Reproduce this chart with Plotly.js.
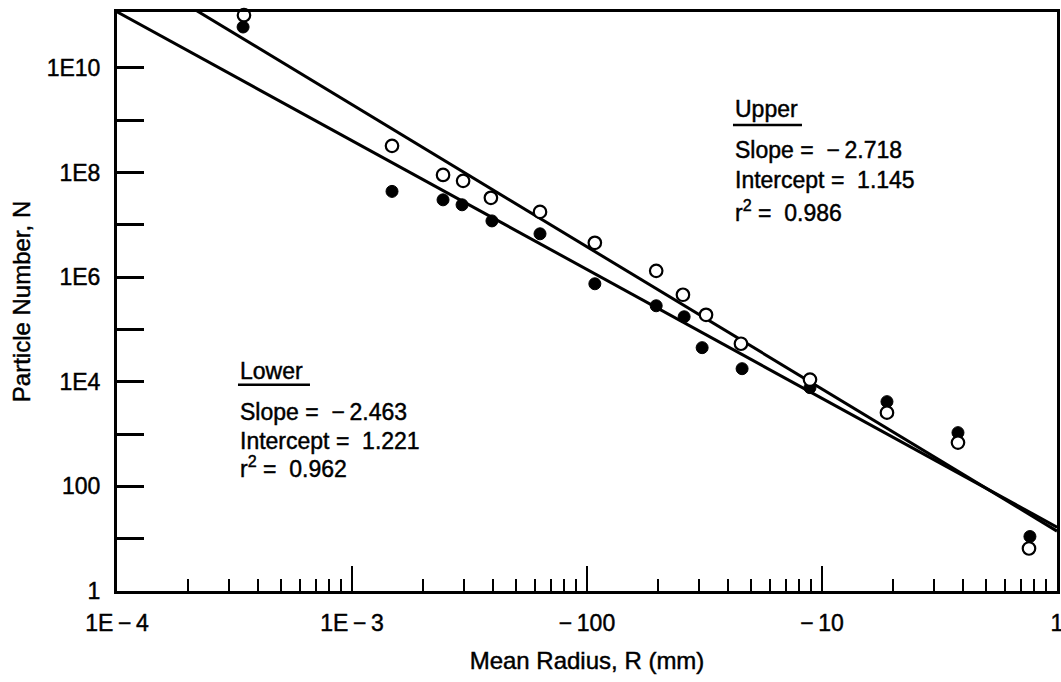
<!DOCTYPE html>
<html><head><meta charset="utf-8">
<script src="https://cdn.plot.ly/plotly-3.0.1.min.js"></script>
<style>
html,body{margin:0;padding:0;background:#fff}
#chart{width:1061px;height:682px}
#chart text{stroke:#000;stroke-width:0.45px}
</style>
</head><body><div id="chart"></div>
<script>
// Open circles (upper set)
const radiusOpen = [3.47e-4, 1.48e-3, 2.44e-3, 2.97e-3, 3.90e-3, 6.31e-3, 1.08e-2, 1.97e-2, 2.56e-2, 3.21e-2, 4.52e-2, 8.89e-2, 0.189, 0.379, 0.760];
const numberOpen = [1.02e11, 3.24e8, 9.0e7, 6.95e7, 3.29e7, 1.77e7, 4.54e6, 1.32e6, 4.61e5, 1.91e5, 5.34e4, 1.10e4, 2570, 687, 6.5];
// Filled circles (lower set)
const radiusFilled = [3.44e-4, 1.48e-3, 2.44e-3, 2.94e-3, 3.94e-3, 6.31e-3, 1.08e-2, 1.97e-2, 2.59e-2, 3.09e-2, 4.57e-2, 8.89e-2, 0.189, 0.379, 0.767];
const numberFilled = [6.07e10, 4.37e7, 3.01e7, 2.42e7, 1.19e7, 6.75e6, 7.48e5, 2.84e5, 1.75e5, 4.49e4, 1.78e4, 7720, 4170, 1066, 11.0];
// Regression fits (log10 N = intercept + slope * log10 R)
const fitNames = ['Upper', 'Lower'];
const fitSlopes = [-2.718, -2.463];
const fitIntercepts = [1.145, 1.221];
const fitR2 = [0.986, 0.962];
const fitRange = [1e-4, 1];
// Tick labels
const xTickVals = [1e-4, 1e-3, 1e-2, 1e-1, 1];
const xTickText = ['1E\u2009\u2212\u20094', '1E\u2009\u2212\u20093', '\u2212\u2009100', '\u2212\u200910', '1'];
const yTickVals = [1, 100, 1e4, 1e6, 1e8, 1e10];
const yTickText = ['1', '100', '1E4', '1E6', '1E8', '1E10'];
const yMinorVals = [10, 1e3, 1e5, 1e7, 1e9];
const xTitle = 'Mean Radius, R (mm)';
const yTitle = 'Particle Number, N';

const FONT = 'Liberation Sans, Arial, Helvetica, sans-serif';
const NB = '\u00a0';

const fmtSlope = s => (s < 0 ? '\u2212\u2009' : '') + Math.abs(s).toFixed(3);

const traces = [];
fitSlopes.forEach((s, i) => {
  traces.push({
    x: fitRange,
    y: fitRange.map(r => Math.pow(10, fitIntercepts[i] + s * Math.log10(r))),
    mode: 'lines', type: 'scatter', name: fitNames[i] + ' fit',
    line: {color: '#000', width: 3}, hoverinfo: 'skip'
  });
});
traces.push({
  x: radiusFilled, y: numberFilled, mode: 'markers', type: 'scatter', name: 'Lower',
  marker: {symbol: 'circle', size: 12, color: '#000', line: {color: '#000', width: 1}},
  cliponaxis: false
});
traces.push({
  x: radiusOpen, y: numberOpen, mode: 'markers', type: 'scatter', name: 'Upper',
  marker: {symbol: 'circle', size: 12.5, color: '#fff', line: {color: '#000', width: 2.2}},
  cliponaxis: false
});

// minor tick positions (2..9 in each decade)
const minorX = [];
for (let d = -4; d < 0; d++) for (let k = 2; k <= 9; k++) minorX.push(k * Math.pow(10, d));

const blocks = [
  {i: 0, x: 0.6553, y: [0.8326, 0.7619, 0.7101, 0.6566], ul: [0.6553, 0.7287, 0.805]},
  {i: 1, x: 0.1287, y: [0.3805, 0.3098, 0.2597, 0.2148], ul: [0.1287, 0.2053, 0.3563]}
];
const annotations = [];
const shapes = [];
blocks.forEach(b => {
  const i = b.i;
  const lines = [
    fitNames[i],
    'Slope' + NB + '=' + NB + NB + fmtSlope(fitSlopes[i]),
    'Intercept' + NB + '=' + NB + NB + fitIntercepts[i].toFixed(3),
    'r<sup>2</sup>' + NB + '=' + NB + NB + fitR2[i].toFixed(3)
  ];
  lines.forEach((t, j) => annotations.push({
    xref: 'paper', yref: 'paper', x: b.x, y: b.y[j], xanchor: 'left', yanchor: 'middle',
    text: t, showarrow: false, font: {family: FONT, size: 23, color: '#000'}
  }));
  shapes.push({type: 'line', xref: 'paper', yref: 'paper', x0: b.ul[0], x1: b.ul[1], y0: b.ul[2], y1: b.ul[2],
    line: {color: '#000', width: 2.5}});
});

const layout = {
  width: 1061, height: 682,
  margin: {l: 117, r: 4, t: 12, b: 91},
  paper_bgcolor: '#fff', plot_bgcolor: '#fff',
  showlegend: false,
  font: {family: FONT, color: '#000'},
  xaxis: {
    type: 'log', range: [-4, 0], autorange: false,
    tickmode: 'array', tickvals: xTickVals, ticktext: xTickText,
    ticks: 'inside', ticklen: 25, tickwidth: 2.5, tickcolor: '#000',
    minor: {tickmode: 'array', tickvals: minorX, ticks: 'inside', ticklen: 12, tickwidth: 2, tickcolor: '#000', showgrid: false},
    showline: true, linewidth: 3, linecolor: '#000', mirror: true,
    showgrid: false, zeroline: false, automargin: false,
    ticklabelstandoff: 9, ticklabeloverflow: 'allow',
    tickfont: {family: FONT, size: 23, color: '#000'},
    title: {text: xTitle, font: {family: FONT, size: 24, color: '#000'}, standoff: 18}
  },
  yaxis: {
    type: 'log', range: [0, 11.07], autorange: false,
    tickmode: 'array', tickvals: yTickVals, ticktext: yTickText,
    ticks: 'inside', ticklen: 27, tickwidth: 3, tickcolor: '#000',
    minor: {tickmode: 'array', tickvals: yMinorVals, ticks: 'inside', ticklen: 27, tickwidth: 3, tickcolor: '#000', showgrid: false},
    showline: true, linewidth: 3, linecolor: '#000', mirror: true,
    showgrid: false, zeroline: false, automargin: false,
    ticklabelstandoff: 9,
    tickfont: {family: FONT, size: 23, color: '#000'},
    title: {text: yTitle, font: {family: FONT, size: 24, color: '#000'}, standoff: 10}
  },
  annotations: annotations,
  shapes: shapes
};

Plotly.newPlot('chart', traces, layout, {displayModeBar: false, staticPlot: true});
</script>
</body></html>
